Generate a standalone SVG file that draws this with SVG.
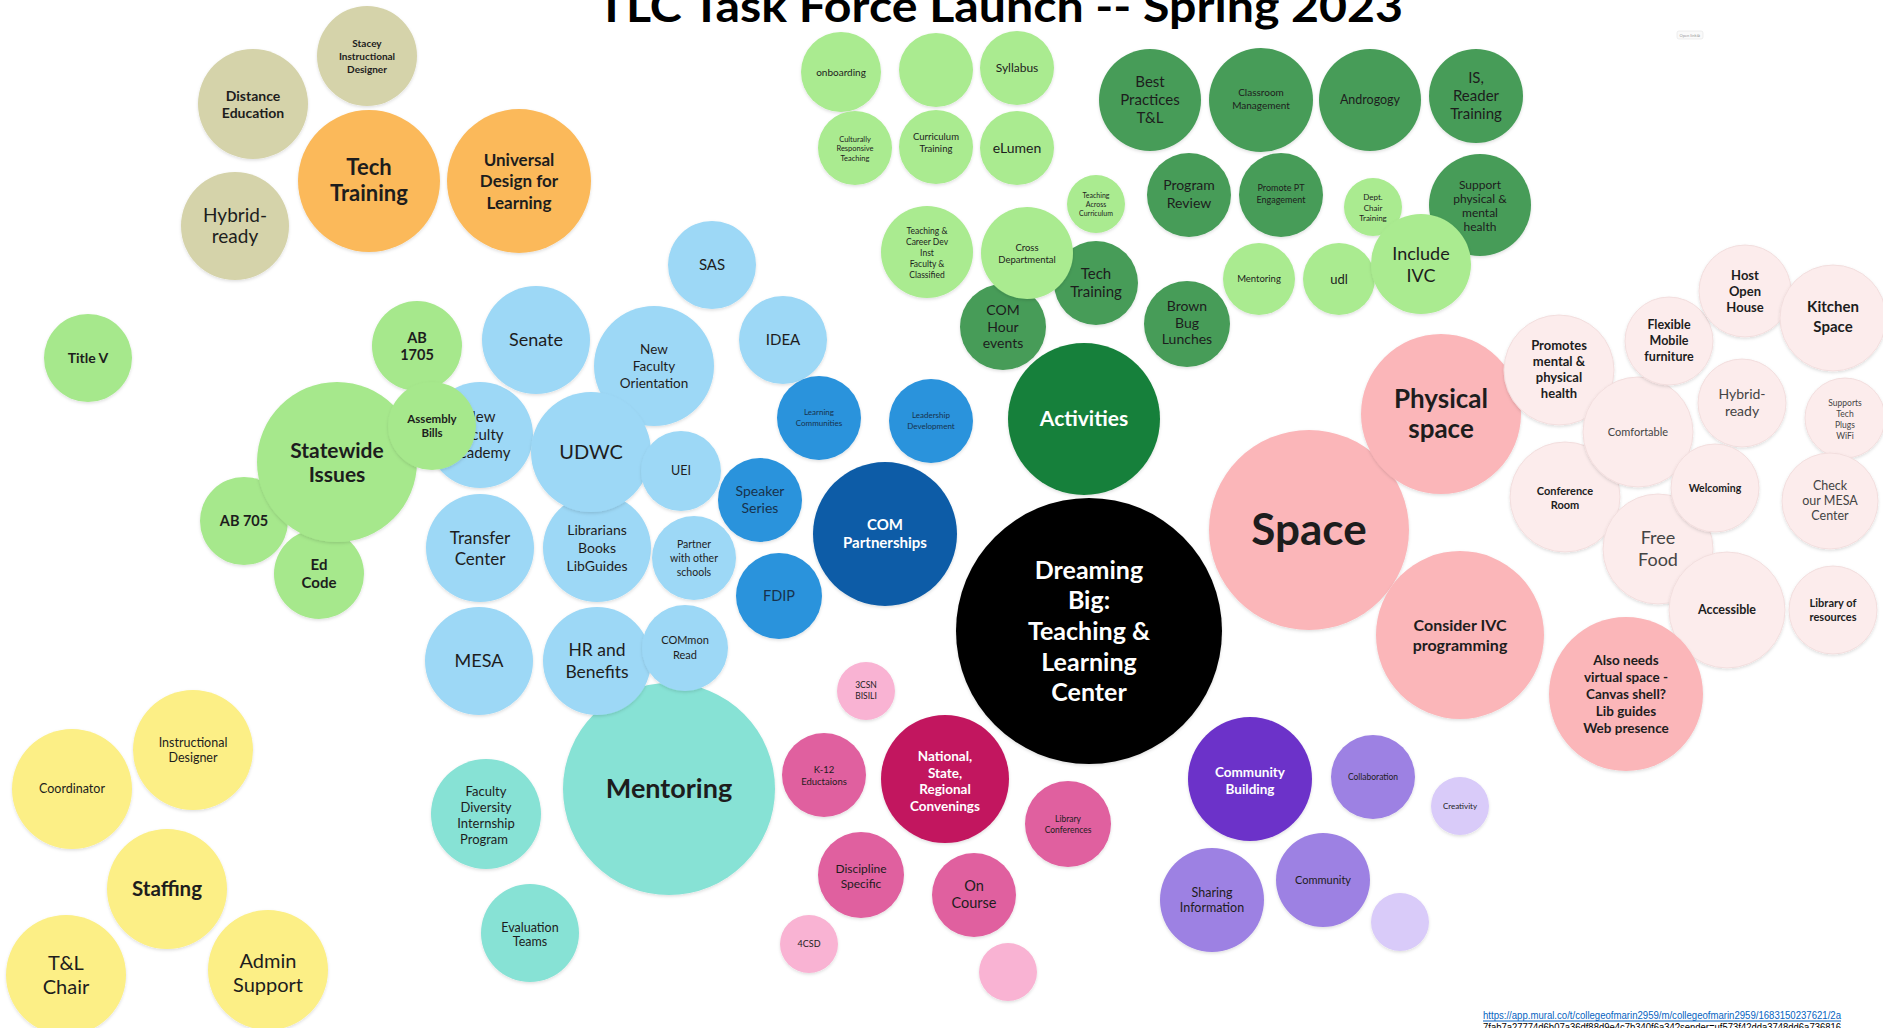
<svg xmlns="http://www.w3.org/2000/svg" width="1883" height="1028" viewBox="0 0 1883 1028">
<defs>
<filter id="sh" x="-20%" y="-20%" width="140%" height="140%"><feDropShadow dx="0" dy="1.5" stdDeviation="1.5" flood-color="#000" flood-opacity="0.13"/></filter>
</defs>
<style>
circle{filter:url(#sh)}
text{font-family:Lato,"Open Sans","Liberation Sans",sans-serif;text-anchor:middle;fill:#1d1d1d}
.b{font-weight:bold}
.w{fill:#ffffff}
.nv{fill:#17324d}
.tan{fill:#d5d3aa}.org{fill:#fbb95a}.lg{fill:#a6e88c}.lb{fill:#9dd8f6}.mb{fill:#2b93dc}.db{fill:#0b5ca7}
.blk{fill:#000}.ag{fill:#17803b}.mg{fill:#479c58}.tg{fill:#aaeb90}.pk{fill:#fbb6b9}.lpk{fill:#fcecec;stroke:#f2dede;stroke-width:1}
.tl{fill:#87e2d5}.yl{fill:#fcef86}.mm{fill:#c2185f}.mp{fill:#e0619f}.lp{fill:#f9b3d3}.pu{fill:#6c32c9}.lv{fill:#9d81e3}.llv{fill:#d9cbf9}
</style>
<rect width="1883" height="1028" fill="#ffffff"/>
<text x="1000" y="22" font-size="44" class="b" textLength="806" lengthAdjust="spacingAndGlyphs" style="fill:#000">TLC Task Force Launch -- Spring 2023</text>
<g id="open-link"><rect x="1677" y="31" width="26" height="8" rx="2" fill="#fafafa" stroke="#e4e4e4" stroke-width="0.6"/><text x="1690" y="37" font-size="4" style="fill:#999">Open link ⧉</text></g>
<g id="connectors"/>

<!-- Tan / orange -->
<g id="n-stacey"><circle class="tan" cx="367" cy="56" r="50"/><text class="b" font-size="10"><tspan x="367" y="47">Stacey</tspan><tspan x="367" y="60">Instructional</tspan><tspan x="367" y="72.5">Designer</tspan></text></g>
<g id="n-distance"><circle class="tan" cx="253" cy="104" r="55"/><text class="b" font-size="14"><tspan x="253" y="100.5">Distance</tspan><tspan x="253" y="117.5">Education</tspan></text></g>
<g id="n-hybrid1"><circle class="tan" cx="235" cy="226" r="54"/><text font-size="19"><tspan x="235" y="222">Hybrid-</tspan><tspan x="235" y="243">ready</tspan></text></g>
<g id="n-techtraining"><circle class="org" cx="369" cy="181" r="71"/><text class="b" font-size="22"><tspan x="369" y="175">Tech</tspan><tspan x="369" y="201">Training</tspan></text></g>
<g id="n-udl"><circle class="org" cx="519" cy="181" r="72"/><text class="b" font-size="17"><tspan x="519" y="165.5">Universal</tspan><tspan x="519" y="187">Design for</tspan><tspan x="519" y="208.5">Learning</tspan></text></g>

<!-- Statewide green -->
<g id="n-titlev"><circle class="lg" cx="88" cy="358" r="44"/><text class="b" font-size="14" x="88" y="363">Title V</text></g>
<g id="n-ab705"><circle class="lg" cx="244" cy="521" r="44"/><text class="b" font-size="14.5" x="244" y="526">AB 705</text></g>
<g id="n-edcode"><circle class="lg" cx="319" cy="574" r="45"/><text class="b" font-size="15"><tspan x="319" y="570">Ed</tspan><tspan x="319" y="588">Code</tspan></text></g>
<g id="n-statewide"><circle class="lg" cx="337" cy="462" r="80"/><text class="b" font-size="21"><tspan x="337" y="457.5">Statewide</tspan><tspan x="337" y="481.5">Issues</tspan></text></g>
<g id="n-ab1705"><circle class="lg" cx="417" cy="346" r="45"/><text class="b" font-size="14.5"><tspan x="417" y="342.5">AB</tspan><tspan x="417" y="359.5">1705</tspan></text></g>

<!-- Mentoring teal (behind blue) -->
<g id="n-mentoring"><circle class="tl" cx="669" cy="789" r="106"/><text class="b" font-size="27" x="669" y="798">Mentoring</text></g>
<g id="n-fdip-program"><circle class="tl" cx="486" cy="814" r="55"/><text font-size="13"><tspan x="486" y="795.5">Faculty</tspan><tspan x="486" y="811.5">Diversity</tspan><tspan x="486" y="827.5">Internship</tspan><tspan x="484" y="843.5">Program</tspan></text></g>
<g id="n-evaluation"><circle class="tl" cx="530" cy="933" r="49"/><text font-size="12.5"><tspan x="530" y="931.5">Evaluation</tspan><tspan x="530" y="946">Teams</tspan></text></g>

<!-- Light blue -->
<g id="n-nfa"><circle class="lb" cx="480" cy="435" r="53"/><text font-size="15"><tspan x="480" y="422">New</tspan><tspan x="480" y="440">Faculty</tspan><tspan x="480" y="458">Academy</tspan></text></g>
<g id="n-assembly"><circle class="lg" cx="432" cy="426" r="44"/><text class="b" font-size="11.5"><tspan x="432" y="423">Assembly</tspan><tspan x="432" y="437">Bills</tspan></text></g>
<g id="n-senate"><circle class="lb" cx="536" cy="340" r="54"/><text font-size="18" x="536" y="346">Senate</text></g>
<g id="n-nfo"><circle class="lb" cx="654" cy="366" r="60"/><text font-size="13.5"><tspan x="654" y="353.5">New</tspan><tspan x="654" y="370.5">Faculty</tspan><tspan x="654" y="387.5">Orientation</tspan></text></g>
<g id="n-sas"><circle class="lb" cx="712" cy="265" r="44"/><text font-size="15" x="712" y="270">SAS</text></g>
<g id="n-idea"><circle class="lb" cx="783" cy="340" r="44"/><text font-size="15" x="783" y="345">IDEA</text></g>
<g id="n-transfer"><circle class="lb" cx="480" cy="548" r="54"/><text font-size="17"><tspan x="480" y="543.5">Transfer</tspan><tspan x="480" y="564.5">Center</tspan></text></g>
<g id="n-librarians"><circle class="lb" cx="597" cy="548" r="54"/><text font-size="14"><tspan x="597" y="535">Librarians</tspan><tspan x="597" y="553">Books</tspan><tspan x="597" y="571">LibGuides</tspan></text></g>
<g id="n-udwc"><circle class="lb" cx="591" cy="452" r="60"/><text font-size="20" x="591" y="459">UDWC</text></g>
<g id="n-uei"><circle class="lb" cx="681" cy="471" r="40"/><text font-size="12.5" x="681" y="475">UEI</text></g>
<g id="n-partner"><circle class="lb" cx="694" cy="558" r="42"/><text font-size="10.5"><tspan x="694" y="547.7">Partner</tspan><tspan x="694" y="561.7">with other</tspan><tspan x="694" y="575.7">schools</tspan></text></g>
<g id="n-mesa"><circle class="lb" cx="479" cy="661" r="54"/><text font-size="18" x="479" y="667">MESA</text></g>
<g id="n-hr"><circle class="lb" cx="597" cy="661" r="54"/><text font-size="17.5"><tspan x="597" y="656">HR and</tspan><tspan x="597" y="678">Benefits</tspan></text></g>
<g id="n-common"><circle class="lb" cx="685" cy="648" r="43"/><text font-size="11"><tspan x="685" y="644">COMmon</tspan><tspan x="685" y="659">Read</tspan></text></g>

<!-- Mid / dark blue -->
<g id="n-learningcomm"><circle class="mb" cx="819" cy="418" r="42"/><text class="nv" font-size="8"><tspan x="819" y="415">Learning</tspan><tspan x="819" y="426">Communities</tspan></text></g>
<g id="n-leadership"><circle class="mb" cx="931" cy="421" r="42"/><text class="nv" font-size="8"><tspan x="931" y="418">Leadership</tspan><tspan x="931" y="429">Development</tspan></text></g>
<g id="n-speaker"><circle class="mb" cx="760" cy="500" r="42"/><text class="nv" font-size="14"><tspan x="760" y="496">Speaker</tspan><tspan x="760" y="513">Series</tspan></text></g>
<g id="n-fdip"><circle class="mb" cx="779" cy="596" r="43"/><text class="nv" font-size="14.5" x="779" y="601">FDIP</text></g>
<g id="n-compartner"><circle class="db" cx="885" cy="534" r="72"/><text class="b w" font-size="15"><tspan x="885" y="530">COM</tspan><tspan x="885" y="548">Partnerships</tspan></text></g>

<!-- Center -->
<g id="n-dreaming"><circle class="blk" cx="1089" cy="631" r="133"/><text class="b w" font-size="25"><tspan x="1089" y="579">Dreaming</tspan><tspan x="1089" y="609">Big:</tspan><tspan x="1089" y="640">Teaching &amp;</tspan><tspan x="1089" y="671">Learning</tspan><tspan x="1089" y="701">Center</tspan></text></g>
<g id="n-activities"><circle class="ag" cx="1084" cy="419" r="76"/><text class="b w" font-size="21" x="1084" y="426">Activities</text></g>

<!-- Top light green -->
<g id="n-onboarding"><circle class="tg" cx="841" cy="72" r="40"/><text font-size="10" x="841" y="75.5">onboarding</text></g>
<g id="n-blank1"><circle class="tg" cx="936" cy="70" r="37"/></g>
<g id="n-syllabus"><circle class="tg" cx="1017" cy="68" r="37"/><text font-size="12" x="1017" y="72">Syllabus</text></g>
<g id="n-culturally"><circle class="tg" cx="855" cy="148" r="37"/><text font-size="7.5"><tspan x="855" y="141.5">Culturally</tspan><tspan x="855" y="151">Responsive</tspan><tspan x="855" y="160.5">Teaching</tspan></text></g>
<g id="n-curriculum"><circle class="tg" cx="936" cy="147" r="37"/><text font-size="9.5"><tspan x="936" y="140">Curriculum</tspan><tspan x="936" y="152">Training</tspan></text></g>
<g id="n-elumen"><circle class="tg" cx="1017" cy="148" r="37"/><text font-size="14" x="1017" y="153">eLumen</text></g>
<g id="n-across"><circle class="tg" cx="1096" cy="204" r="29"/><text font-size="7"><tspan x="1096" y="197.5">Teaching</tspan><tspan x="1096" y="206.5">Across</tspan><tspan x="1096" y="215.5">Curriculum</tspan></text></g>

<!-- Medium green -->
<g id="n-bestpractices"><circle class="mg" cx="1150" cy="100" r="51"/><text font-size="15"><tspan x="1150" y="87">Best</tspan><tspan x="1150" y="105">Practices</tspan><tspan x="1150" y="123">T&amp;L</tspan></text></g>
<g id="n-classroom"><circle class="mg" cx="1261" cy="100" r="52"/><text font-size="10"><tspan x="1261" y="96">Classroom</tspan><tspan x="1261" y="109">Management</tspan></text></g>
<g id="n-androgogy"><circle class="mg" cx="1370" cy="100" r="51"/><text font-size="12.5" x="1370" y="104">Androgogy</text></g>
<g id="n-isreader"><circle class="mg" cx="1476" cy="96" r="47"/><text font-size="15"><tspan x="1476" y="83">IS,</tspan><tspan x="1476" y="101">Reader</tspan><tspan x="1476" y="119">Training</tspan></text></g>
<g id="n-program"><circle class="mg" cx="1189" cy="195" r="42"/><text font-size="14"><tspan x="1189" y="190">Program</tspan><tspan x="1189" y="208">Review</tspan></text></g>
<g id="n-promotept"><circle class="mg" cx="1281" cy="195" r="42"/><text font-size="9"><tspan x="1281" y="191">Promote PT</tspan><tspan x="1281" y="203">Engagement</tspan></text></g>
<g id="n-support"><circle class="mg" cx="1480" cy="205" r="51"/><text font-size="12"><tspan x="1480" y="189">Support</tspan><tspan x="1480" y="203">physical &amp;</tspan><tspan x="1480" y="217">mental</tspan><tspan x="1480" y="231">health</tspan></text></g>
<g id="n-techtraining2"><circle class="mg" cx="1096" cy="283" r="42"/><text font-size="15"><tspan x="1096" y="279">Tech</tspan><tspan x="1096" y="297">Training</tspan></text></g>
<g id="n-comhour"><circle class="mg" cx="1003" cy="327" r="43"/><text font-size="14"><tspan x="1003" y="315">COM</tspan><tspan x="1003" y="332">Hour</tspan><tspan x="1003" y="348">events</tspan></text></g>
<g id="n-brownbug"><circle class="mg" cx="1187" cy="324" r="43"/><text font-size="14"><tspan x="1187" y="311">Brown</tspan><tspan x="1187" y="328">Bug</tspan><tspan x="1187" y="344">Lunches</tspan></text></g>

<!-- Light green over medium -->
<g id="n-teachingcareer"><circle class="tg" cx="927" cy="252" r="46"/><text font-size="8.5"><tspan x="927" y="234">Teaching &amp;</tspan><tspan x="927" y="245">Career Dev</tspan><tspan x="927" y="256">Inst</tspan><tspan x="927" y="267">Faculty &amp;</tspan><tspan x="927" y="278">Classified</tspan></text></g>
<g id="n-cross"><circle class="tg" cx="1027" cy="253" r="46"/><text font-size="9.5"><tspan x="1027" y="251">Cross</tspan><tspan x="1027" y="263">Departmental</tspan></text></g>
<g id="n-deptchair"><circle class="tg" cx="1373" cy="207" r="29"/><text font-size="8"><tspan x="1373" y="200">Dept.</tspan><tspan x="1373" y="210.5">Chair</tspan><tspan x="1373" y="221">Training</tspan></text></g>
<g id="n-mentoring2"><circle class="tg" cx="1259" cy="279" r="36"/><text font-size="9.5" x="1259" y="282">Mentoring</text></g>
<g id="n-udl2"><circle class="tg" cx="1339" cy="279" r="36"/><text font-size="13" x="1339" y="283.5">udl</text></g>
<g id="n-includeivc"><circle class="tg" cx="1421" cy="264" r="50"/><text font-size="18"><tspan x="1421" y="260">Include</tspan><tspan x="1421" y="282">IVC</tspan></text></g>

<!-- Pink -->
<g id="n-space"><circle class="pk" cx="1309" cy="530" r="100"/><text class="b" font-size="44" x="1309" y="545">Space</text></g>
<g id="n-physical"><circle class="pk" cx="1441" cy="414" r="80"/><text class="b" font-size="26"><tspan x="1441" y="408">Physical</tspan><tspan x="1441" y="438">space</tspan></text></g>
<g id="n-considerivc"><circle class="pk" cx="1460" cy="635" r="84"/><text class="b" font-size="16"><tspan x="1460" y="631">Consider IVC</tspan><tspan x="1460" y="651">programming</tspan></text></g>

<!-- Very light pink -->
<g id="n-promotes"><circle class="lpk" cx="1559" cy="370" r="55"/><text class="b" font-size="13"><tspan x="1559" y="349.5">Promotes</tspan><tspan x="1559" y="365.5">mental &amp;</tspan><tspan x="1559" y="381.5">physical</tspan><tspan x="1559" y="397.5">health</tspan></text></g>
<g id="n-conference"><circle class="lpk" cx="1565" cy="497" r="55"/><text class="b" font-size="11"><tspan x="1565" y="495">Conference</tspan><tspan x="1565" y="508.5">Room</tspan></text></g>
<g id="n-comfortable"><circle class="lpk" cx="1638" cy="432" r="55"/><text font-size="11" x="1638" y="436" style="fill:#444">Comfortable</text></g>
<g id="n-flexible"><circle class="lpk" cx="1669" cy="341" r="44"/><text class="b" font-size="12.5"><tspan x="1669" y="329">Flexible</tspan><tspan x="1669" y="345">Mobile</tspan><tspan x="1669" y="361">furniture</tspan></text></g>
<g id="n-host"><circle class="lpk" cx="1745" cy="291" r="46"/><text class="b" font-size="13"><tspan x="1745" y="279.5">Host</tspan><tspan x="1745" y="295.5">Open</tspan><tspan x="1745" y="311.5">House</tspan></text></g>
<g id="n-kitchen"><circle class="lpk" cx="1833" cy="318" r="53"/><text class="b" font-size="15"><tspan x="1833" y="312">Kitchen</tspan><tspan x="1833" y="332">Space</tspan></text></g>
<g id="n-hybrid2"><circle class="lpk" cx="1742" cy="403" r="44"/><text font-size="14" style="fill:#444"><tspan x="1742" y="398.5">Hybrid-</tspan><tspan x="1742" y="416">ready</tspan></text></g>
<g id="n-supports"><circle class="lpk" cx="1845" cy="418" r="40"/><text font-size="8.5" style="fill:#444"><tspan x="1845" y="405.5">Supports</tspan><tspan x="1845" y="416.5">Tech</tspan><tspan x="1845" y="427.5">Plugs</tspan><tspan x="1845" y="438.5">WiFi</tspan></text></g>
<g id="n-freefood"><circle class="lpk" cx="1658" cy="549" r="55"/><text font-size="18" style="fill:#444"><tspan x="1658" y="544">Free</tspan><tspan x="1658" y="566">Food</tspan></text></g>
<g id="n-welcoming"><circle class="lpk" cx="1715" cy="488" r="44"/><text class="b" font-size="10.5" x="1715" y="491.5">Welcoming</text></g>
<g id="n-accessible"><circle class="lpk" cx="1727" cy="610" r="58"/><text class="b" font-size="12.5" x="1727" y="614">Accessible</text></g>
<g id="n-checkmesa"><circle class="lpk" cx="1830" cy="501" r="48"/><text font-size="12.5" style="fill:#444"><tspan x="1830" y="490">Check</tspan><tspan x="1830" y="505">our MESA</tspan><tspan x="1830" y="520">Center</tspan></text></g>
<g id="n-library"><circle class="lpk" cx="1833" cy="610" r="44"/><text class="b" font-size="11"><tspan x="1833" y="607">Library of</tspan><tspan x="1833" y="621">resources</tspan></text></g>
<g id="n-alsoneeds"><circle class="pk" cx="1626" cy="694" r="77"/><text class="b" font-size="13.5"><tspan x="1626" y="665">Also needs</tspan><tspan x="1626" y="682">virtual space -</tspan><tspan x="1626" y="699">Canvas shell?</tspan><tspan x="1626" y="716">Lib guides</tspan><tspan x="1626" y="733">Web presence</tspan></text></g>

<!-- Yellow -->
<g id="n-instructional"><circle class="yl" cx="193" cy="750" r="60"/><text font-size="12.5"><tspan x="193" y="746.5">Instructional</tspan><tspan x="193" y="762">Designer</tspan></text></g>
<g id="n-coordinator"><circle class="yl" cx="72" cy="789" r="60"/><text font-size="12.5" x="72" y="793">Coordinator</text></g>
<g id="n-staffing"><circle class="yl" cx="167" cy="889" r="60"/><text class="b" font-size="20.5" x="167" y="896">Staffing</text></g>
<g id="n-tlchair"><circle class="yl" cx="66" cy="975" r="60"/><text font-size="20"><tspan x="66" y="970">T&amp;L</tspan><tspan x="66" y="994">Chair</tspan></text></g>
<g id="n-admin"><circle class="yl" cx="268" cy="970" r="60"/><text font-size="20"><tspan x="268" y="968">Admin</tspan><tspan x="268" y="992">Support</tspan></text></g>

<!-- Magenta -->
<g id="n-3csn"><circle class="lp" cx="866" cy="691" r="29"/><text font-size="8.5"><tspan x="866" y="688">3CSN</tspan><tspan x="866" y="699">BISILI</tspan></text></g>
<g id="n-k12"><circle class="mp" cx="824" cy="775" r="42"/><text font-size="9.5"><tspan x="824" y="773">K-12</tspan><tspan x="824" y="785">Eductaions</tspan></text></g>
<g id="n-national"><circle class="mm" cx="945" cy="779" r="64"/><text class="b w" font-size="13.5"><tspan x="945" y="761">National,</tspan><tspan x="945" y="777.5">State,</tspan><tspan x="945" y="794">Regional</tspan><tspan x="945" y="810.5">Convenings</tspan></text></g>
<g id="n-libconf"><circle class="mp" cx="1068" cy="824" r="43"/><text font-size="8.5"><tspan x="1068" y="822">Library</tspan><tspan x="1068" y="833">Conferences</tspan></text></g>
<g id="n-discipline"><circle class="mp" cx="861" cy="875" r="43"/><text font-size="12"><tspan x="861" y="872.5">Discipline</tspan><tspan x="861" y="887.5">Specific</tspan></text></g>
<g id="n-oncourse"><circle class="mp" cx="974" cy="895" r="42"/><text font-size="14.5"><tspan x="974" y="890.5">On</tspan><tspan x="974" y="907.5">Course</tspan></text></g>
<g id="n-4csd"><circle class="lp" cx="809" cy="944" r="29"/><text font-size="9" x="809" y="947">4CSD</text></g>
<g id="n-blank2"><circle class="lp" cx="1008" cy="972" r="29"/></g>

<!-- Purple -->
<g id="n-commbuilding"><circle class="pu" cx="1250" cy="779" r="62"/><text class="b w" font-size="13.5"><tspan x="1250" y="776.5">Community</tspan><tspan x="1250" y="793.5">Building</tspan></text></g>
<g id="n-collaboration"><circle class="lv" cx="1373" cy="777" r="42"/><text font-size="8.5" x="1373" y="780">Collaboration</text></g>
<g id="n-community"><circle class="lv" cx="1323" cy="880" r="47"/><text font-size="11" x="1323" y="884">Community</text></g>
<g id="n-sharing"><circle class="lv" cx="1212" cy="900" r="52"/><text font-size="12.5"><tspan x="1212" y="897">Sharing</tspan><tspan x="1212" y="912">Information</tspan></text></g>
<g id="n-creativity"><circle class="llv" cx="1460" cy="806" r="29"/><text font-size="8" x="1460" y="809">Creativity</text></g>
<g id="n-blank3"><circle class="llv" cx="1400" cy="922" r="29"/></g>

<!-- Link -->
<g id="link">
<text x="1483" y="1019" font-size="10.5" textLength="358" lengthAdjust="spacingAndGlyphs" style="text-anchor:start;fill:#0563c1;font-family:'Liberation Sans',sans-serif">https://app.mural.co/t/collegeofmarin2959/m/collegeofmarin2959/1683150237621/2a</text>
<line x1="1483" y1="1021" x2="1841" y2="1021" stroke="#0563c1" stroke-width="1.2"/>
<text x="1483" y="1031" font-size="10.5" textLength="358" lengthAdjust="spacingAndGlyphs" style="text-anchor:start;fill:#000;font-family:'Liberation Sans',sans-serif">7fab7a27774d6b07a36df88d9e4c7b340f6a34?sender=uf573f42dda3748dd6a736816</text>
</g>
</svg>
